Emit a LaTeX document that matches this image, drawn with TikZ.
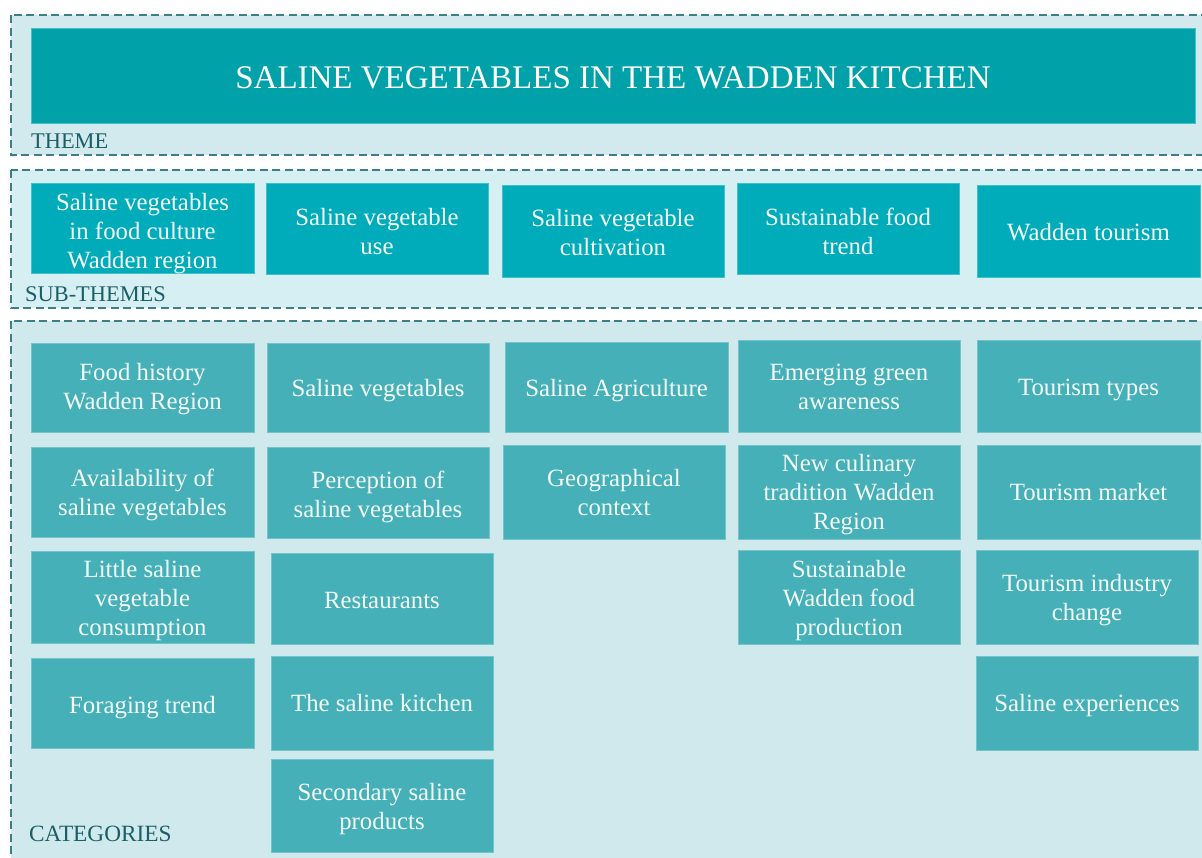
\documentclass[tikz,border=0pt]{standalone}
\usepackage{fontspec}
\setmainfont{Liberation Serif}
\definecolor{themebox}{HTML}{00A1A9}
\definecolor{subbox}{HTML}{00ABBA}
\definecolor{catbox}{HTML}{45B0B8}
\definecolor{themebg}{HTML}{D2EAEE}
\definecolor{subbg}{HTML}{D6EFF3}
\definecolor{catbg}{HTML}{D0E9ED}
\definecolor{dashcol}{HTML}{3C7F87}
\definecolor{labcol}{HTML}{1A5E66}
\definecolor{boxtext}{HTML}{F4FBFB}
% \bx[text shift down]{name}{style}{x1}{y1}{x2}{y2}{text}
\newcommand\bx[8][3]{\node[#3, minimum width={#6pt-#4pt}, minimum height={#7pt-#5pt}] (#2) at ({(#4+#6)/2},{(#5+#7)/2}) {\raisebox{0pt}[\dimexpr\height+#1pt\relax][\dimexpr\depth-#1pt\relax]{\begin{tabular}{@{}c@{}}#8\end{tabular}}};}
\begin{document}
\begin{tikzpicture}[x=1pt,y=-1pt,
  panel/.style={draw=dashcol, line width=2pt, dash pattern=on 8pt off 4.5pt},
  boxbase/.style={rectangle, inner sep=0pt, outer sep=0pt, text=boxtext, font=\fontsize{24.8}{29}\selectfont},
  themestyle/.style={boxbase, fill=themebox, draw=themebox!70!white, line width=0.6pt, text=white, font=\fontsize{33}{38}\selectfont},
  substyle/.style={boxbase, fill=subbox, draw=subbox!75!white, line width=0.6pt},
  catstyle/.style={boxbase, fill=catbox, draw=catbox!75!white, line width=0.6pt},
  lab/.style={anchor=base west, inner sep=0pt, text=labcol, font=\fontsize{22.4}{26}\selectfont}]
\useasboundingbox (0,0) rectangle (1202,857);
\fill[white] (0,0) rectangle (1202,857);
\clip (0,0) rectangle (1202,857);
% panels
\fill[themebg] (11,15) rectangle (1220,155);
\draw[panel] (11,15) rectangle (1220,155);
\fill[subbg] (11,170) rectangle (1220,308);
\draw[panel] (11,170) rectangle (1220,308);
\fill[catbg] (11,321) rectangle (1220,880);
\draw[panel] (11,321) rectangle (1220,880);
% theme
\bx[5]{title}{themestyle}{31}{28}{1195}{123}{SALINE VEGETABLES IN THE WADDEN KITCHEN}
\node[lab] (lt) at (31,148) {THEME};
% sub-themes
\bx[6]{s1}{substyle}{31}{183}{254}{273}{Saline vegetables\\in food culture\\Wadden region}
\bx[6]{s2}{substyle}{266}{183}{488}{274}{Saline vegetable\\use}
\bx[4]{s3}{substyle}{502}{185}{724}{277}{Saline vegetable\\cultivation}
\bx[6]{s4}{substyle}{737}{183}{959}{274}{Sustainable food\\trend}
\bx[4]{s5}{substyle}{977}{185}{1200}{277}{Wadden tourism}
\node[lab] (ls) at (25,301) {SUB-THEMES};
% categories
\bx[2]{c11}{catstyle}{31}{343}{254}{432}{Food history\\Wadden Region}
\bx[3]{c12}{catstyle}{31}{447}{254}{537}{Availability of\\saline vegetables}
\bx[4]{c13}{catstyle}{31}{551}{254}{643}{Little saline\\vegetable\\consumption}
\bx[5]{c14}{catstyle}{31}{658}{254}{748}{Foraging trend}
\bx[3]{c21}{catstyle}{267}{343}{489}{432}{Saline vegetables}
\bx[5]{c22}{catstyle}{267}{447}{489}{538}{Perception of\\saline vegetables}
\bx[4]{c23}{catstyle}{271}{553}{493}{644}{Restaurants}
\bx[3]{c24}{catstyle}{271}{656}{493}{750}{The saline kitchen}
\bx[4]{c25}{catstyle}{271}{759}{493}{852}{Secondary saline\\products}
\bx[4]{c31}{catstyle}{505}{342}{728}{432}{Saline Agriculture}
\bx[3]{c32}{catstyle}{503}{445}{725}{539}{Geographical\\context}
\bx[3]{c41}{catstyle}{738}{340}{960}{432}{Emerging green\\awareness}
\bx[3]{c42}{catstyle}{738}{445}{960}{539}{New culinary\\tradition Wadden\\Region}
\bx[4]{c43}{catstyle}{738}{550}{960}{644}{Sustainable\\Wadden food\\production}
\bx[4]{c51}{catstyle}{977}{340}{1200}{432}{Tourism types}
\bx[3]{c52}{catstyle}{977}{445}{1200}{539}{Tourism market}
\bx[3]{c53}{catstyle}{976}{550}{1198}{644}{Tourism industry\\change}
\bx[3]{c54}{catstyle}{976}{656}{1198}{750}{Saline experiences}
\node[lab, font=\fontsize{23.3}{27}\selectfont] (lc) at (29,841) {CATEGORIES};
\end{tikzpicture}
\end{document}
